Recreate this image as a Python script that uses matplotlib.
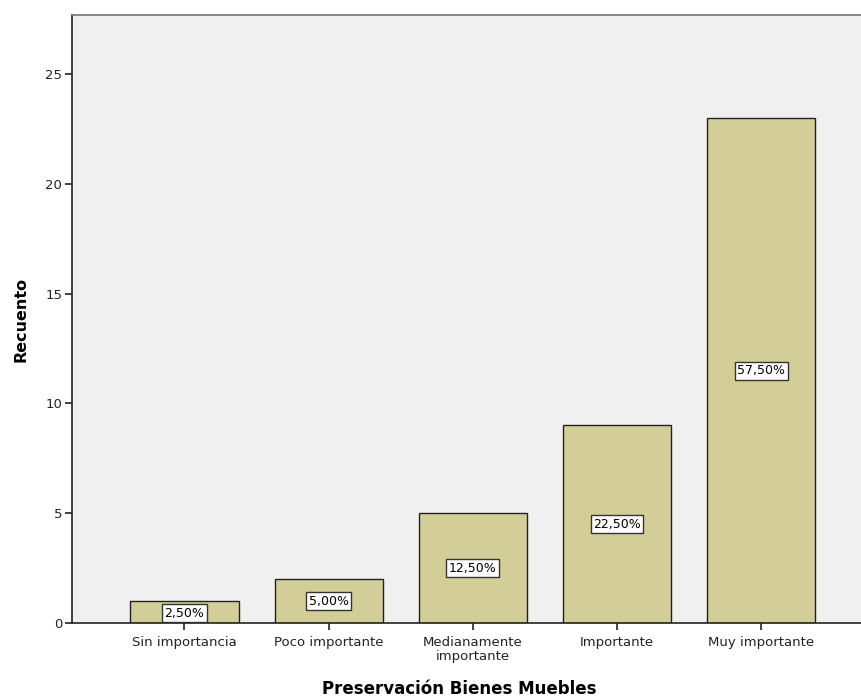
import matplotlib
matplotlib.use("Agg")
import matplotlib.pyplot as plt

plt.rcParams['font.family'] = ['DejaVu Sans']

categories = ["Sin importancia", "Poco importante", "Medianamente\nimportante", "Importante", "Muy importante"]
counts = [1, 2, 5, 9, 23]
percent_labels = ["2,50%", "5,00%", "12,50%", "22,50%", "57,50%"]

fig = plt.figure(figsize=(8.62, 6.99), dpi=100)
ax = fig.add_axes([0.0835, 0.1087, 0.93, 0.87])
ax.set_facecolor("#f0f0f0")

x = range(len(categories))
ax.bar(x, counts, width=0.75, color="#d3ce97", edgecolor="#222222", linewidth=1.0, zorder=2)

# percentage labels in white boxes at mid-bar
for xi, c, lab in zip(x, counts, percent_labels):
    ax.text(xi, c / 2 - (0.05 if c < 2 else 0), lab, ha="center", va="center", fontsize=9,
            bbox=dict(boxstyle="square,pad=0.2", facecolor="white", edgecolor="#333333", linewidth=1.0),
            zorder=3)

ax.set_xlim(-0.78, 4.78)
ax.set_ylim(0, 27.7)
ax.set_yticks([0, 5, 10, 15, 20, 25])
ax.set_xticks(list(x))
ax.set_xticklabels(categories, fontsize=9.5, linespacing=1.15)
ax.tick_params(axis="y", labelsize=9.5, length=5, width=1.2, color="#222222", labelcolor="#222222", pad=2)
ax.tick_params(axis="x", length=5, width=1.2, color="#222222", labelcolor="#222222", pad=4)

ax.spines["left"].set_color("#222222")
ax.spines["left"].set_linewidth(1.2)
ax.spines["bottom"].set_color("#222222")
ax.spines["bottom"].set_linewidth(1.2)
ax.spines["top"].set_color("#777777")
ax.spines["top"].set_linewidth(1.2)
ax.spines["right"].set_visible(False)

# fixed label position so the two-line tick label doesn't push it off the figure
ax.set_xlabel("Preservación Bienes Muebles", fontsize=12, fontweight="bold", va="center")
ax.xaxis.set_label_coords(0.483, -0.108)
ax.set_ylabel("Recuento", fontsize=11.5, fontweight="bold", labelpad=12)

fig.savefig("out.png", dpi=100)
